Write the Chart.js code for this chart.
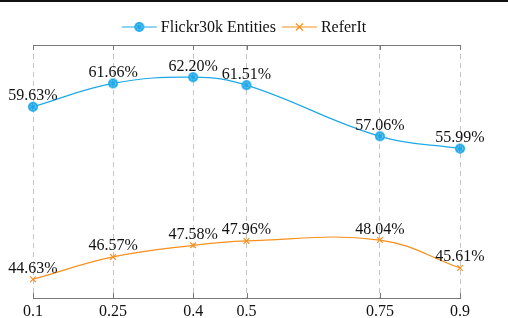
<!DOCTYPE html>
<html>
<head>
<meta charset="utf-8">
<script src="https://cdn.jsdelivr.net/npm/chart.js@4.4.1/dist/chart.umd.min.js"></script>
<style>
html, body { margin: 0; padding: 0; background: #fff; }
#wrap { width: 508px; height: 318px; }
</style>
</head>
<body>
<div id="wrap"><canvas id="chart" width="508" height="318"></canvas></div>
<script>
// values
const thresholds = [0.1, 0.25, 0.4, 0.5, 0.75, 0.9];
const flickrVals = [59.63, 61.66, 62.20, 61.51, 57.06, 55.99];
const referVals = [44.63, 46.57, 47.58, 47.96, 48.04, 45.61];
const seriesNames = ['Flickr30k Entities', 'ReferIt'];
const tickVals = [0.1, 0.25, 0.4, 0.5, 0.75, 0.9];

const FONT = '"Liberation Serif", "Times New Roman", serif';
const cyan = '#1fa8e8', orange = '#f7901e';

function ringMarker(col) {
  const c = document.createElement('canvas');
  c.width = 12; c.height = 12;
  const g = c.getContext('2d');
  g.fillStyle = col;
  g.beginPath(); g.arc(6, 6, 5, 0, Math.PI * 2); g.fill();
  g.strokeStyle = 'rgba(255,255,255,0.6)';
  g.lineWidth = 1;
  g.setLineDash([1.3, 1.3]);
  g.beginPath(); g.arc(6, 6, 2.8, 0, Math.PI * 2); g.stroke();
  return c;
}
const flickrMarker = ringMarker(cyan);

function drawCross(ctx, x, y, r, col) {
  ctx.save();
  ctx.strokeStyle = col; ctx.lineWidth = 1.2;
  ctx.beginPath();
  ctx.moveTo(x - r, y - r); ctx.lineTo(x + r, y + r);
  ctx.moveTo(x - r, y + r); ctx.lineTo(x + r, y - r);
  ctx.stroke();
  ctx.restore();
}

// top rule, top border of the plot and inner tick marks
const framePlugin = {
  id: 'frame',
  beforeDraw(chart) {
    const ctx = chart.ctx;
    ctx.save();
    ctx.fillStyle = '#111';
    ctx.fillRect(0, 0, chart.width, 2);
    ctx.restore();
  },
  beforeDatasetsDraw(chart) {
    const ctx = chart.ctx, a = chart.chartArea, xs = chart.scales.x;
    ctx.save();
    ctx.strokeStyle = '#777'; ctx.lineWidth = 1;
    ctx.beginPath();
    ctx.moveTo(a.left, a.top + 0.5); ctx.lineTo(a.right, a.top + 0.5);
    tickVals.forEach(v => {
      const px = Math.round(xs.getPixelForValue(v)) + 0.5;
      ctx.moveTo(px, a.top); ctx.lineTo(px, a.top + 5);
      ctx.moveTo(px, a.bottom); ctx.lineTo(px, a.bottom - 5);
    });
    ctx.stroke();
    ctx.restore();
  }
};

// value labels above each point
const labelPlugin = {
  id: 'valueLabels',
  afterDatasetsDraw(chart) {
    const ctx = chart.ctx;
    ctx.save();
    ctx.font = '16px ' + FONT;
    ctx.fillStyle = '#111';
    ctx.textAlign = 'center';
    ctx.textBaseline = 'alphabetic';
    chart.data.datasets.forEach((ds, i) => {
      chart.getDatasetMeta(i).data.forEach((pt, j) => {
        ctx.fillText(ds.data[j].y.toFixed(2) + '%', pt.x, pt.y - 6.5);
      });
    });
    ctx.restore();
  }
};

// legend: line + marker + name, centred above the plot
const legendPlugin = {
  id: 'lineLegend',
  afterDraw(chart) {
    const ctx = chart.ctx;
    ctx.save();
    ctx.font = '16px ' + FONT;
    const seg = 35, gap = 4, sep = 6, y = 27;
    const w1 = ctx.measureText(seriesNames[0]).width;
    const w2 = ctx.measureText(seriesNames[1]).width;
    const total = seg + gap + w1 + sep + seg + gap + w2;
    let x = 244 - total / 2;
    const cols = [cyan, orange], ws = [w1, w2];
    for (let i = 0; i < 2; i++) {
      ctx.strokeStyle = cols[i]; ctx.lineWidth = 1.2;
      ctx.beginPath(); ctx.moveTo(x, y); ctx.lineTo(x + seg, y); ctx.stroke();
      if (i === 0) ctx.drawImage(flickrMarker, x + seg / 2 - 6, y - 6);
      else drawCross(ctx, x + seg / 2, y, 3.5, orange);
      ctx.fillStyle = '#111';
      ctx.textBaseline = 'middle';
      ctx.fillText(seriesNames[i], x + seg + gap, y + 1);
      x += seg + gap + ws[i] + sep;
    }
    ctx.restore();
  }
};

new Chart(document.getElementById('chart'), {
  type: 'line',
  data: {
    datasets: [
      {
        label: seriesNames[0],
        data: thresholds.map((t, i) => ({ x: t, y: flickrVals[i] })),
        borderColor: cyan,
        borderWidth: 1.2,
        pointStyle: flickrMarker,
        pointRadius: 5,
        tension: 0.4,
        clip: false
      },
      {
        label: seriesNames[1],
        data: thresholds.map((t, i) => ({ x: t, y: referVals[i] })),
        borderColor: orange,
        backgroundColor: orange,
        borderWidth: 1.2,
        pointStyle: 'crossRot',
        pointRadius: 4,
        pointBorderWidth: 1.2,
        tension: 0.4,
        clip: false
      }
    ]
  },
  options: {
    responsive: false,
    animation: false,
    layout: { padding: { top: 45, left: 33, right: 48, bottom: 0 } },
    plugins: { legend: { display: false }, tooltip: { enabled: false } },
    scales: {
      x: {
        type: 'linear',
        min: 0.1,
        max: 0.9,
        afterBuildTicks: s => { s.ticks = tickVals.map(v => ({ value: v })); },
        afterFit: s => { s.height = 20; },
        grid: { color: '#c4c4c4', lineWidth: 1, drawTicks: false },
        border: { display: true, color: '#777', width: 1, dash: [5, 4] },
        ticks: {
          padding: 4,
          autoSkip: false,
          maxRotation: 0,
          color: '#111',
          font: { family: FONT, size: 16 },
          callback: v => String(v)
        }
      },
      y: { display: false, min: 43, max: 65 }
    }
  },
  plugins: [framePlugin, labelPlugin, legendPlugin]
});
</script>
</body>
</html>
